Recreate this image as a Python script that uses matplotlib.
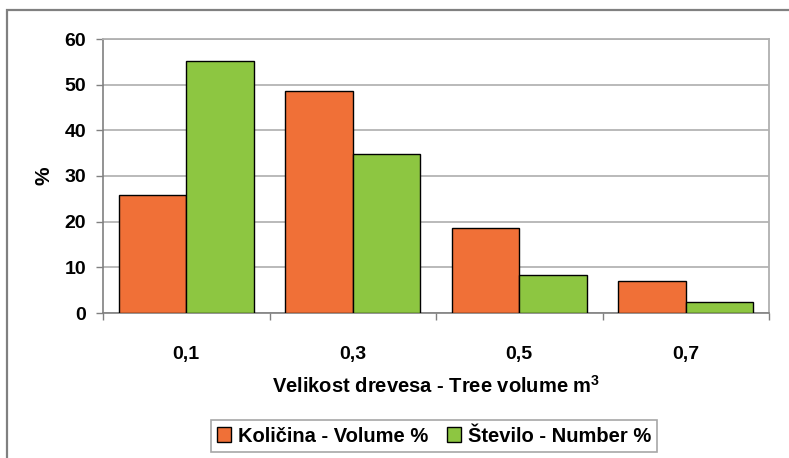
import matplotlib
matplotlib.use("Agg")
import matplotlib.pyplot as plt
import matplotlib.patches as mpatches
import numpy as np

categories = ["0,1", "0,3", "0,5", "0,7"]
volume_pct = [25.8, 48.7, 18.6, 7.0]
number_pct = [55.2, 34.9, 8.3, 2.4]
yticks = [0, 10, 20, 30, 40, 50, 60]
series_names = ["Količina - Volume %", "Število - Number %"]

orange = "#F07037"
green = "#8DC641"

plt.rcParams['font.family'] = ['Liberation Sans', 'DejaVu Sans']
plt.rcParams['mathtext.fontset'] = 'custom'
plt.rcParams['mathtext.rm'] = 'Liberation Sans'
plt.rcParams['mathtext.bf'] = 'Liberation Sans:bold'

fig = plt.figure(figsize=(7.89, 4.58), dpi=100)
ax = fig.add_axes([103/789, 1-313/458, (769-103)/789, (313-39)/458])

x = np.arange(len(categories))
w = 0.405
b1 = ax.bar(x - w/2, volume_pct, w, color=orange, edgecolor="black", linewidth=1.0, label=series_names[0], zorder=3)
b2 = ax.bar(x + w/2, number_pct, w, color=green, edgecolor="black", linewidth=1.0, label=series_names[1], zorder=3)

ax.set_xlim(-0.5, len(categories) - 0.5)
ax.set_ylim(0, 60)
ax.set_yticks(yticks)
ax.set_yticklabels([str(t) for t in yticks], fontsize=14, fontweight="bold")
ax.yaxis.grid(True, color="#b4b4b4", linewidth=1.3, zorder=0)
ax.set_axisbelow(True)

ax.set_xticks(x)
ax.set_xticklabels(categories, fontsize=14, fontweight="bold")
ax.set_xticks(np.arange(len(categories) + 1) - 0.5, minor=True)
ax.tick_params(axis="x", which="major", length=0, pad=24)
ax.tick_params(axis="x", which="minor", length=5, color="#808080", width=1)
ax.tick_params(axis="y", length=5, color="#808080", width=1, pad=7)

for s in ["top", "right"]:
    ax.spines[s].set_color("#b0b0b0")
    ax.spines[s].set_linewidth(1.3)
for s in ["left", "bottom"]:
    ax.spines[s].set_color("#808080")
    ax.spines[s].set_linewidth(1.2)

ax.set_xlabel("Velikost drevesa - Tree volume m$^{\\mathbf{3}}$", fontsize=14.5, fontweight="bold",
              labelpad=8)
ax.set_ylabel("%", fontsize=15, fontweight="bold", labelpad=8)

leg = fig.legend(handles=[b1, b2], loc="center", bbox_to_anchor=(434/789, 1-436/458),
                 ncol=2, frameon=True, fancybox=False, edgecolor="#909090",
                 prop={"size": 14.5, "weight": "bold"}, handlelength=0.7, handleheight=0.7,
                 handletextpad=0.35, columnspacing=0.9, borderpad=0.3)
leg.get_frame().set_linewidth(1.2)

# outer chart frame
frame = mpatches.Rectangle((7/789, -0.02), 1.1, 1 - 10/458 + 0.02, transform=fig.transFigure,
                           fill=False, edgecolor="#808080", linewidth=1.6, clip_on=False)
fig.patches.append(frame)

fig.savefig("out.png", dpi=100)
